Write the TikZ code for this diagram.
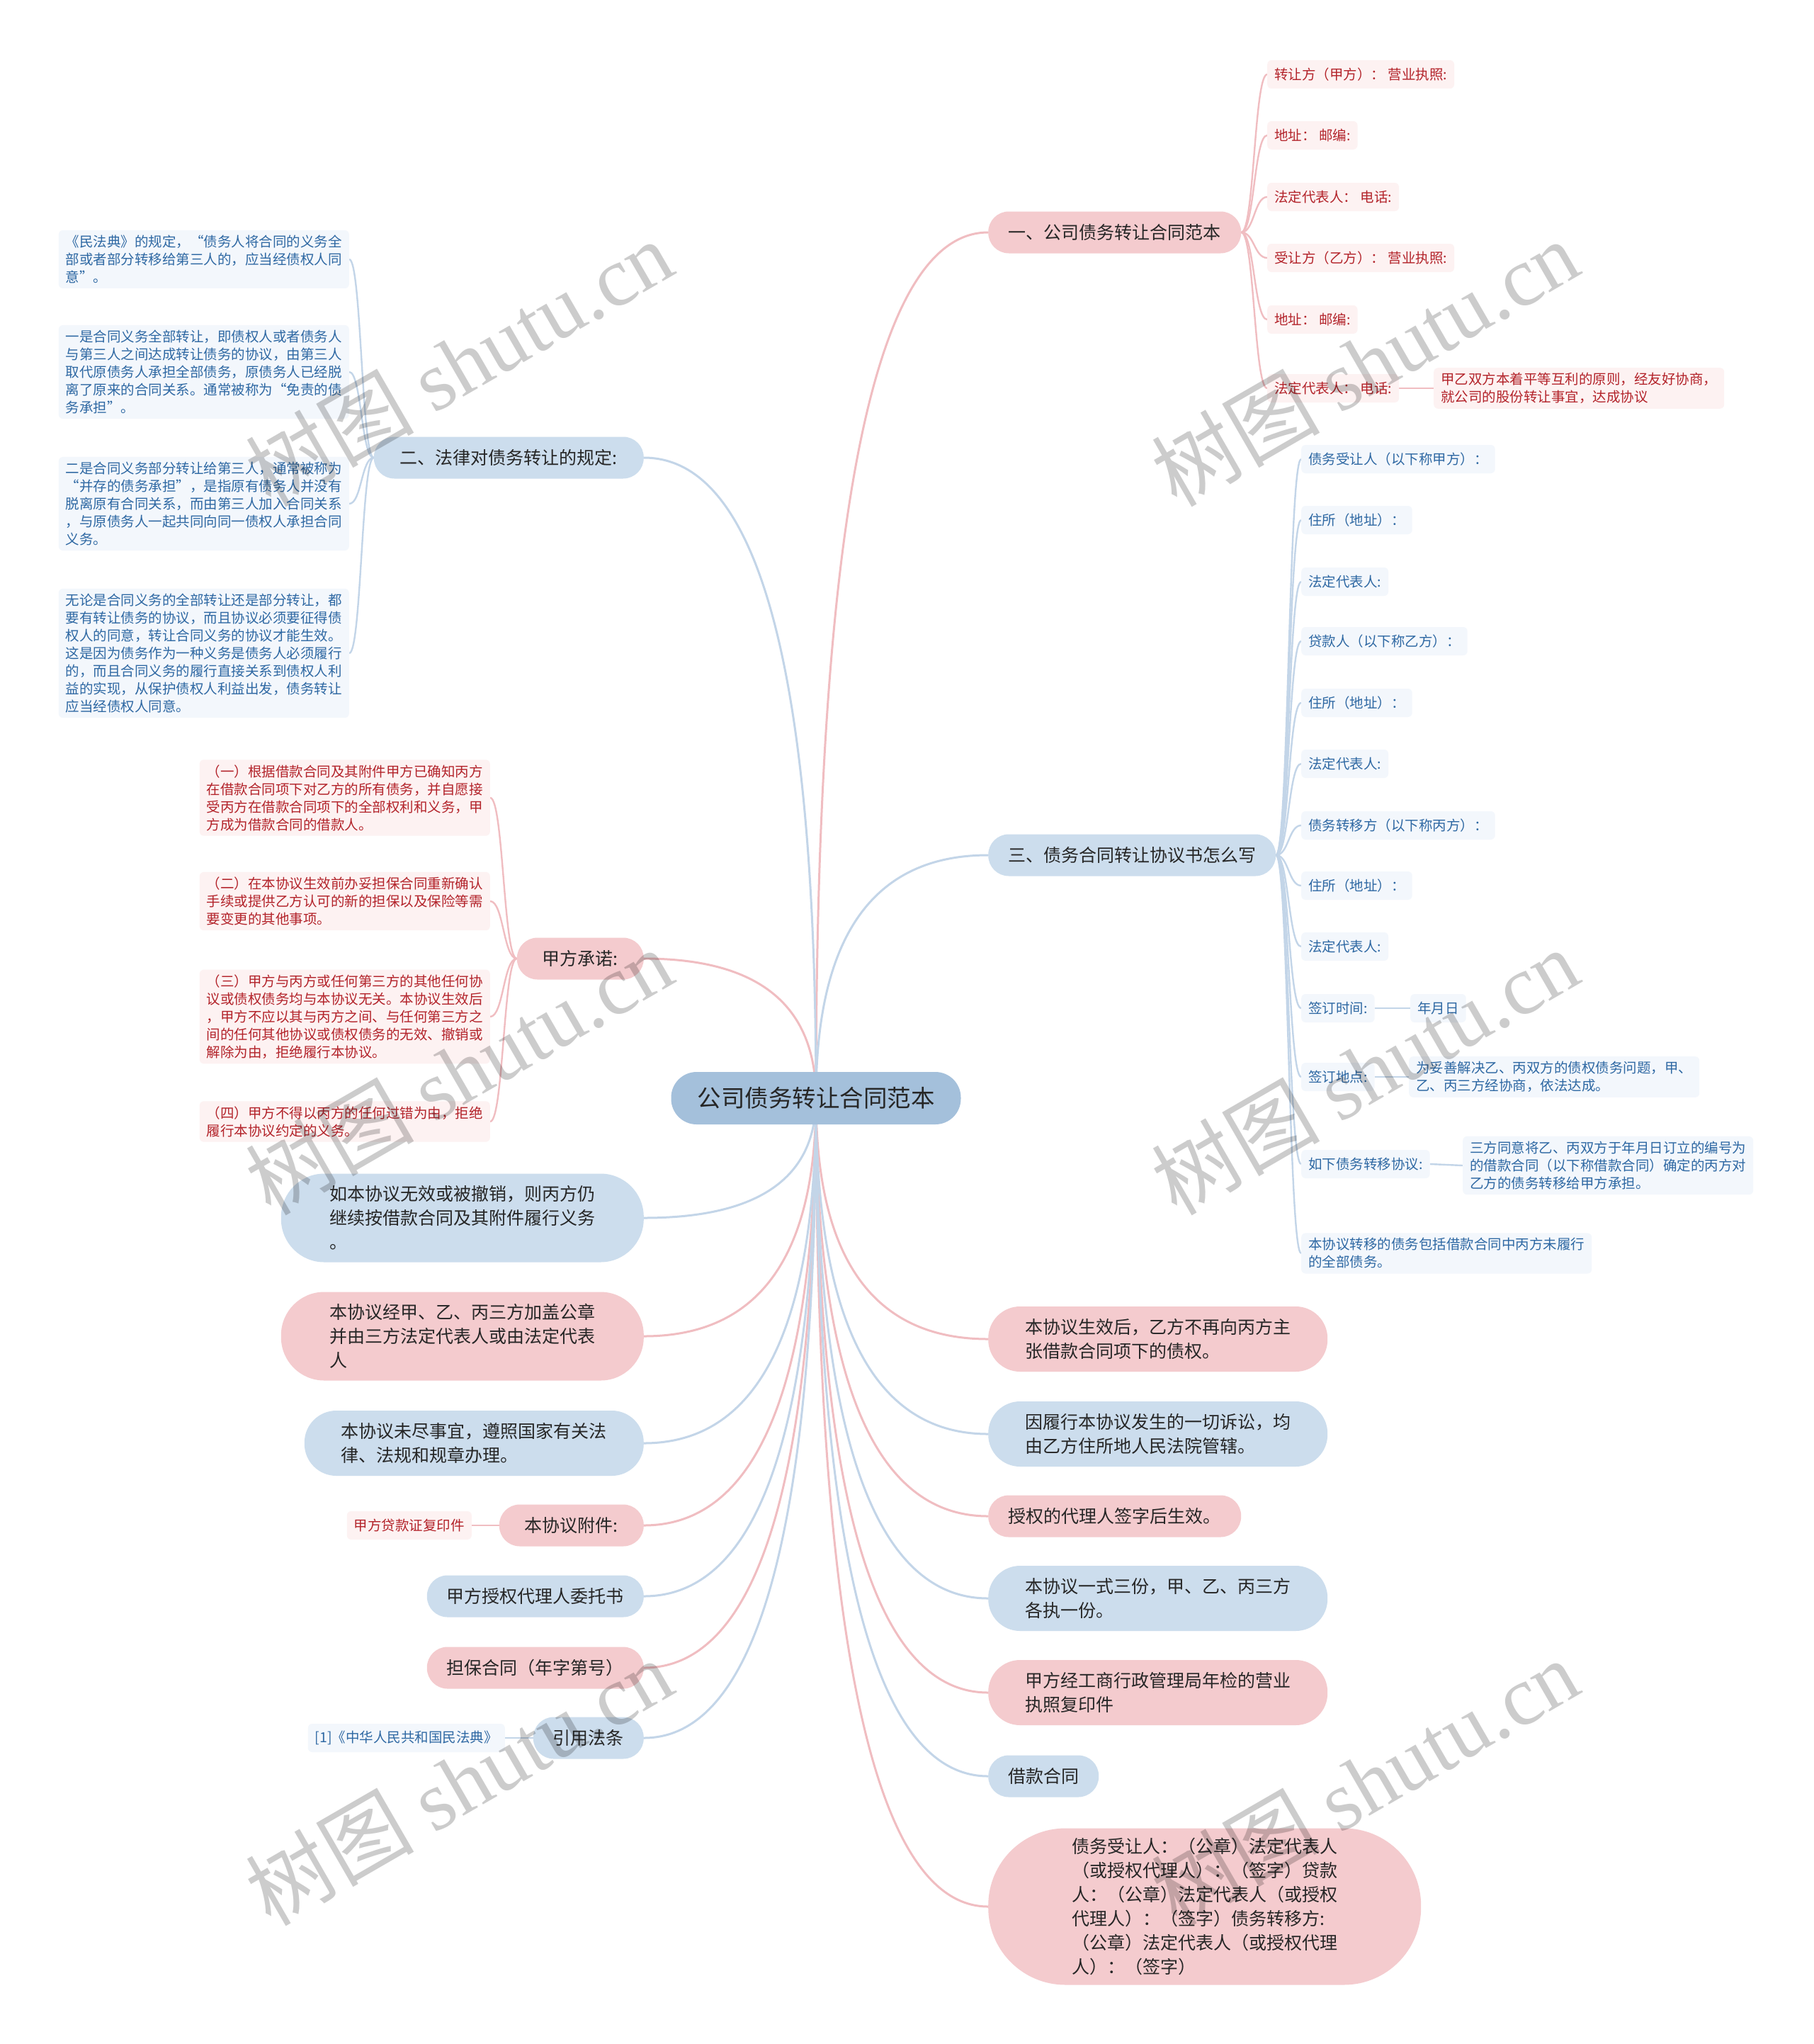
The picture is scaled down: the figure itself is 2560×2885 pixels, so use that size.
\documentclass[tikz,border=0pt]{standalone}
\usepackage{fontspec}
\setmainfont{Noto Sans CJK SC}
\newfontfamily\wmfont{Liberation Serif}
\usetikzlibrary{calc,backgrounds}

\definecolor{rootfill}{HTML}{A4C0DB}
\definecolor{bluefill}{HTML}{CCDDED}
\definecolor{pinkfill}{HTML}{F4CBCE}
\definecolor{blueleafbg}{HTML}{F3F7FC}
\definecolor{pinkleafbg}{HTML}{FDF2F2}
\definecolor{bluetext}{HTML}{2E68A3}
\definecolor{redtext}{HTML}{B3232A}
\definecolor{darktext}{HTML}{262626}
\definecolor{bluelinec}{HTML}{C3D5E8}
\definecolor{pinklinec}{HTML}{F0BDC1}

\tikzset{
  rootnode/.style={fill=rootfill, text=darktext, font=\fontsize{33.5}{40}\selectfont,
    minimum width=409pt, minimum height=74pt, rounded corners=36pt, inner sep=0pt},
  topic/.style={text=darktext, font=\fontsize{25}{34}\selectfont, align=left,
    inner xsep=28pt, inner ysep=0pt, minimum height=59pt, rounded corners=29pt},
  twoline/.style={minimum height=92pt, rounded corners=45pt},
  threeline/.style={minimum height=125pt, rounded corners=61pt},
  bluetopic/.style={topic, fill=bluefill},
  pinktopic/.style={topic, fill=pinkfill},
  leaf/.style={font=\fontsize{19.5}{25}\selectfont, align=left, inner xsep=10pt,
    inner ysep=7pt, minimum height=40pt, rounded corners=6pt},
  blueleaf/.style={leaf, fill=blueleafbg, text=bluetext},
  pinkleaf/.style={leaf, fill=pinkleafbg, text=redtext},
  blueline/.style={draw=bluelinec, line width=3pt},
  pinkline/.style={draw=pinklinec, line width=3pt},
  bluethin/.style={draw=bluelinec, line width=2.4pt},
  pinkthin/.style={draw=pinklinec, line width=2.4pt},
  branch/.style={to path={let \p1=(\tikztostart), \p2=(\tikztotarget) in
      .. controls (\x1,{(\y1)+0.667*((\y2)-(\y1))}) and ({(\x2)+0.667*((\x1)-(\x2))},\y2) .. (\tikztotarget)}},
  elbow/.style={to path={let \p1=(\tikztostart), \p2=(\tikztotarget) in
      .. controls ({0.5*((\x1)+(\x2))},\y1) and ({0.5*((\x1)+(\x2))},\y2) .. (\tikztotarget)}},
  watermark/.style={text=black, text opacity=0.2, rotate=30, font=\fontsize{119}{119}\selectfont},
}

\begin{document}
\begin{tikzpicture}[x=1pt, y=-1pt]
\useasboundingbox (0,0) rectangle (2560,2885);

% centre
\node[rootnode] (root) at (1152,1550) {公司债务转让合同范本};

% right side
\node[pinktopic, anchor=west, minimum width=357pt] (r1) at (1395,328) {一、公司债务转让合同范本};
\node[bluetopic, anchor=west, minimum width=405pt] (r2) at (1395,1207) {三、债务合同转让协议书怎么写};
\node[pinktopic, twoline, anchor=west, minimum width=479pt] (r3) at (1395,1890) {本协议生效后，乙方不再向丙方主\\张借款合同项下的债权。};
\node[bluetopic, twoline, anchor=west, minimum width=479pt] (r4) at (1395,2024) {因履行本协议发生的一切诉讼，均\\由乙方住所地人民法院管辖。};
\node[pinktopic, anchor=west, minimum width=357pt] (r5) at (1395,2140) {授权的代理人签字后生效。};
\node[bluetopic, twoline, anchor=west, minimum width=479pt] (r6) at (1395,2256) {本协议一式三份，甲、乙、丙三方\\各执一份。};
\node[pinktopic, twoline, anchor=west, minimum width=479pt] (r7) at (1395,2389) {甲方经工商行政管理局年检的营业\\执照复印件};
\node[bluetopic, anchor=west, minimum width=156pt] (r8) at (1395,2507) {借款合同};
\node[pinktopic, anchor=west, minimum width=611pt, minimum height=221pt, rounded corners=109pt] (r9) at (1395,2691)
  {债务受让人：（公章）法定代表人\\（或授权代理人）：（签字）贷款\\人：（公章）法定代表人（或授权\\代理人）：（签字）债务转移方:\\（公章）法定代表人（或授权代理\\人）：（签字）};

% left side
\node[bluetopic, anchor=east, minimum width=381pt] (l1) at (909,646) {二、法律对债务转让的规定:};
\node[pinktopic, anchor=east, minimum width=179pt] (l2) at (909,1353) {甲方承诺:};
\node[bluetopic, threeline, anchor=east, minimum width=512pt] (l3) at (909,1719) {如本协议无效或被撤销，则丙方仍\\继续按借款合同及其附件履行义务\\。};
\node[pinktopic, threeline, anchor=east, minimum width=512pt] (l4) at (909,1886) {本协议经甲、乙、丙三方加盖公章\\并由三方法定代表人或由法定代表\\人};
\node[bluetopic, twoline, anchor=east, minimum width=479pt] (l5) at (909,2037) {本协议未尽事宜，遵照国家有关法\\律、法规和规章办理。};
\node[pinktopic, anchor=east, minimum width=204pt] (l6) at (909,2153) {本协议附件:};
\node[bluetopic, anchor=east, minimum width=306pt] (l7) at (909,2253) {甲方授权代理人委托书};
\node[pinktopic, anchor=east, minimum width=306pt] (l8) at (909,2354) {担保合同（年字第号）};
\node[bluetopic, anchor=east, minimum width=155pt] (l9) at (909,2453) {引用法条};

% leaves of r1
\foreach \k/\y/\t in {1/105/{转让方（甲方）： 营业执照:}, 2/191/{地址： 邮编:}, 3/278/{法定代表人： 电话:},
    4/364/{受让方（乙方）： 营业执照:}, 5/451/{地址： 邮编:}, 6/548/{法定代表人： 电话:}}
  \node[pinkleaf, anchor=west] (a\k) at (1789,\y) {\t};
\node[pinkleaf, anchor=west] (a7) at (2024,548) {甲乙双方本着平等互利的原则，经友好协商，\\就公司的股份转让事宜，达成协议};

% leaves of r2
\foreach \k/\y/\t in {1/648/{债务受让人（以下称甲方）：}, 2/734/{住所（地址）：}, 3/821/{法定代表人:},
    4/905/{贷款人（以下称乙方）：}, 5/992/{住所（地址）：}, 6/1078/{法定代表人:},
    7/1165/{债务转移方（以下称丙方）：}, 8/1250/{住所（地址）：}, 9/1336/{法定代表人:},
    10/1423/{签订时间:}, 11/1520/{签订地点:}, 12/1643/{如下债务转移协议:},
    13/1769/{本协议转移的债务包括借款合同中丙方未履行\\的全部债务。}}
  \node[blueleaf, anchor=west] (s\k) at (1837,\y) {\t};
\node[blueleaf, anchor=west] (t10) at (1991,1423) {年月日};
\node[blueleaf, anchor=west] (t11) at (1989,1520) {为妥善解决乙、丙双方的债权债务问题，甲、\\乙、丙三方经协商，依法达成。};
\node[blueleaf, anchor=west] (t12) at (2065,1645) {三方同意将乙、丙双方于年月日订立的编号为\\的借款合同（以下称借款合同）确定的丙方对\\乙方的债务转移给甲方承担。};

% leaves of l1
\node[blueleaf, anchor=east] (b1) at (493,366) {《民法典》的规定，“债务人将合同的义务全\\部或者部分转移给第三人的，应当经债权人同\\意”。};
\node[blueleaf, anchor=east] (b2) at (493,525) {一是合同义务全部转让，即债权人或者债务人\\与第三人之间达成转让债务的协议，由第三人\\取代原债务人承担全部债务，原债务人已经脱\\离了原来的合同关系。通常被称为“免责的债\\务承担”。};
\node[blueleaf, anchor=east] (b3) at (493,711) {二是合同义务部分转让给第三人，通常被称为\\“并存的债务承担”，是指原有债务人并没有\\脱离原有合同关系，而由第三人加入合同关系\\，与原债务人一起共同向同一债权人承担合同\\义务。};
\node[blueleaf, anchor=east] (b4) at (493,922) {无论是合同义务的全部转让还是部分转让，都\\要有转让债务的协议，而且协议必须要征得债\\权人的同意，转让合同义务的协议才能生效。\\这是因为债务作为一种义务是债务人必须履行\\的，而且合同义务的履行直接关系到债权人利\\益的实现，从保护债权人利益出发，债务转让\\应当经债权人同意。};

% leaves of l2
\node[pinkleaf, anchor=east] (c1) at (692,1126) {（一）根据借款合同及其附件甲方已确知丙方\\在借款合同项下对乙方的所有债务，并自愿接\\受丙方在借款合同项下的全部权利和义务，甲\\方成为借款合同的借款人。};
\node[pinkleaf, anchor=east] (c2) at (692,1272) {（二）在本协议生效前办妥担保合同重新确认\\手续或提供乙方认可的新的担保以及保险等需\\要变更的其他事项。};
\node[pinkleaf, anchor=east] (c3) at (692,1435) {（三）甲方与丙方或任何第三方的其他任何协\\议或债权债务均与本协议无关。本协议生效后\\，甲方不应以其与丙方之间、与任何第三方之\\间的任何其他协议或债权债务的无效、撤销或\\解除为由，拒绝履行本协议。};
\node[pinkleaf, anchor=east] (c4) at (692,1583) {（四）甲方不得以丙方的任何过错为由，拒绝\\履行本协议约定的义务。};

\node[pinkleaf, anchor=east] (d6) at (666,2153) {甲方贷款证复印件};
\node[blueleaf, anchor=east] (d9) at (713,2453) {[1]《中华人民共和国民法典》};

% connectors
\begin{scope}[on background layer]
\fill[white] (0,0) rectangle (2560,2885);
\foreach \k in {r1,r3,r5,r7,r9} \draw[pinkline] (root.center) to[branch] (\k.west);
\foreach \k in {r2,r4,r6,r8} \draw[blueline] (root.center) to[branch] (\k.west);
\foreach \k in {l2,l4,l6,l8} \draw[pinkline] (root.center) to[branch] (\k.east);
\foreach \k in {l1,l3,l5,l7,l9} \draw[blueline] (root.center) to[branch] (\k.east);
\foreach \k in {1,...,6} \draw[pinkthin] (r1.east) to[elbow] (a\k.west);
\draw[pinkthin] (a6.east) -- (a7.west);
\foreach \k in {1,...,13} \draw[bluethin] (r2.east) to[elbow] (s\k.west);
\draw[bluethin] (s10.east) -- (t10.west);
\draw[bluethin] (s11.east) -- (t11.west);
\draw[bluethin] (s12.east) -- (t12.west);
\foreach \k in {1,...,4} \draw[bluethin] (l1.west) to[elbow] (b\k.east);
\foreach \k in {1,...,4} \draw[pinkthin] (l2.west) to[elbow] (c\k.east);
\draw[pinkthin] (l6.west) -- (d6.east);
\draw[bluethin] (l9.west) -- (d9.east);
\end{scope}

% watermarks
\foreach \i/\x/\y in {1/648/512, 2/1927/512, 3/648/1512, 4/1927/1512, 5/648/2515, 6/1927/2515}
  \node[watermark] (wm\i) at (\x,\y) {树图 {\wmfont shutu.cn}};
\end{tikzpicture}
\end{document}
